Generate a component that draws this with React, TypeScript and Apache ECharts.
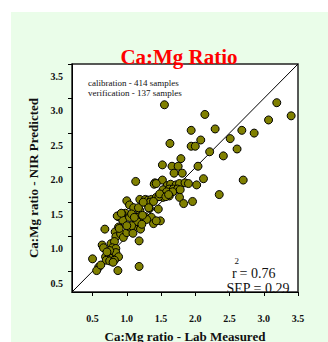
import React, { useEffect, useRef } from "react";
import * as echarts from "echarts";

const labMeasured = [
  1.55, 2.14, 3.19, 3.40, 3.07, 1.94, 2.29, 2.68, 2.86, 2.51,
  2.08, 1.63, 1.94, 2.00, 2.61, 2.21, 2.41, 1.79, 1.52, 1.66,
  1.75, 2.04, 1.69, 1.81, 2.12, 2.70, 1.13, 1.52, 1.41, 1.40,
  1.43, 1.59, 1.64, 1.72, 1.77, 1.85, 1.90, 2.02, 1.53, 1.62,
  1.68, 1.74, 1.58, 1.67, 1.78, 2.35, 1.53, 1.62, 1.77, 1.83,
  1.96, 1.19, 1.27, 1.31, 1.36, 1.43, 1.47, 1.30, 1.00, 1.04,
  1.10, 1.19, 1.33, 1.46, 0.98, 0.93, 0.88, 0.94, 1.04, 1.07,
  1.13, 1.19, 1.27, 1.36, 1.14, 1.49, 1.39, 1.29, 1.23, 0.68,
  0.88, 0.83, 0.84, 0.91, 0.95, 1.00, 1.04, 1.10, 1.20, 1.09,
  1.18, 0.77, 0.82, 0.64, 0.66, 0.79, 0.84, 0.78, 0.84, 0.74,
  0.69, 0.88, 0.70, 0.75, 0.82, 0.50, 0.59, 0.56, 0.87, 1.18,
  0.62, 0.80, 0.75, 0.71, 0.89, 0.86, 0.92, 1.15, 1.11, 1.43,
  1.22, 1.07, 1.00, 1.34, 1.39, 1.17, 1.32, 1.24, 1.48, 1.57, 1.61,
];

const nirPredicted = [
  2.91, 2.77, 2.94, 2.75, 2.69, 2.54, 2.56, 2.54, 2.50, 2.42,
  2.40, 2.35, 2.31, 2.31, 2.27, 2.23, 2.17, 2.13, 2.04, 2.02,
  2.02, 2.02, 1.92, 1.92, 1.84, 1.82, 1.80, 1.82, 1.78, 1.76,
  1.77, 1.74, 1.76, 1.75, 1.77, 1.78, 1.77, 1.75, 1.68, 1.69,
  1.69, 1.69, 1.65, 1.65, 1.68, 1.61, 1.57, 1.59, 1.57, 1.48,
  1.51, 1.54, 1.54, 1.53, 1.54, 1.57, 1.58, 1.47, 1.52, 1.46,
  1.42, 1.38, 1.41, 1.40, 1.34, 1.33, 1.29, 1.24, 1.28, 1.33,
  1.28, 1.29, 1.29, 1.28, 1.24, 1.23, 1.19, 1.25, 1.31, 1.11,
  1.14, 1.07, 1.00, 1.04, 0.99, 1.06, 1.14, 1.14, 1.11, 1.05,
  0.94, 0.90, 0.93, 0.88, 0.84, 0.84, 0.83, 0.76, 0.77, 0.70,
  0.71, 0.71, 0.66, 0.65, 0.66, 0.68, 0.56, 0.51, 0.51, 0.57,
  0.59, 0.63, 0.80, 0.78, 1.12, 1.30, 1.34, 1.22, 1.28, 1.23,
  1.18, 1.16, 1.16, 1.50, 1.51, 1.42, 1.42, 1.50, 1.62, 1.58, 1.61,
];

const tickValues = [0.5, 1.0, 1.5, 2.0, 2.5, 3.0, 3.5];
const axisMin = 0.2;
const axisMax = 3.5;
const identityLine = [
  [0.2, 0.2],
  [3.5, 3.5],
];

const titleText = "Ca:Mg Ratio";
const xName = "Ca:Mg ratio - Lab Measured";
const yName = "Ca:Mg ratio - NIR Predicted";
const noteLines = ["calibration - 414 samples", "verification - 137 samples"];
const r2Text = "= 0.76";
const sepText = "SEP = 0.29";

const SERIF = "Liberation Serif";

function txt(
  text: string,
  x: number,
  y: number,
  size: number,
  opts: { color?: string; weight?: string; align?: string; z?: number } = {}
) {
  return {
    type: "text",
    x,
    y,
    z: opts.z ?? 10,
    silent: true,
    style: {
      text,
      align: opts.align ?? "left",
      verticalAlign: "middle",
      fill: opts.color ?? "#000",
      fontFamily: SERIF,
      fontSize: size,
      fontWeight: opts.weight ?? "normal",
    },
  };
}

export default function App() {
  const ref = useRef<HTMLDivElement>(null);

  useEffect(() => {
    if (!ref.current) return;
    const chart = echarts.init(ref.current, null, { renderer: "svg" });
    const points = labMeasured.map((x, i) => [x, nirPredicted[i]]);

    const axisCommon = {
      type: "value" as const,
      min: axisMin,
      max: axisMax,
      axisLine: { show: true, lineStyle: { color: "#000", width: 1 } },
      axisTick: {
        show: true,
        inside: false,
        length: 4,
        customValues: tickValues,
        lineStyle: { color: "#000", width: 1 },
      },
      splitLine: { show: false },
    };

    chart.setOption({
      animation: false,
      backgroundColor: "#ffffff",
      graphic: [
        {
          type: "rect",
          z: -10,
          silent: true,
          shape: { x: 11, y: 12, width: 317, height: 330 },
          style: { fill: "#eafde9" },
        },
        txt(titleText, 179, 57, 21, { color: "#ff0000", weight: "bold", align: "center" }),
        txt(noteLines[0], 88, 83, 9, { color: "#111" }),
        txt(noteLines[1], 88, 92.5, 9, { color: "#111" }),
        txt("r", 232, 273, 14, { color: "#111" }),
        txt("2", 234.5, 261, 9, { color: "#111" }),
        txt(r2Text, 239.5, 273, 14, { color: "#111" }),
        txt(sepText, 226.5, 288.5, 14, { color: "#111", z: 1 }),
      ],
      grid: {
        left: 72,
        top: 64,
        width: 226,
        height: 228,
        show: true,
        backgroundColor: "#ffffff",
        borderColor: "#222",
        borderWidth: 1.5,
        containLabel: false,
        outerBoundsMode: "none",
      },
      xAxis: {
        ...axisCommon,
        name: xName,
        nameLocation: "middle",
        nameGap: 37.5,
        nameTextStyle: {
          fontFamily: SERIF,
          fontWeight: "bold",
          fontSize: 13,
          color: "#111",
        },
        axisLabel: {
          customValues: tickValues,
          margin: 21,
          fontFamily: SERIF,
          fontWeight: "bold",
          fontSize: 10,
          color: "#111",
          formatter: (v: number) => v.toFixed(1),
        },
      },
      yAxis: {
        ...axisCommon,
        name: yName,
        nameLocation: "middle",
        nameGap: 31,
        nameTextStyle: {
          fontFamily: SERIF,
          fontWeight: "bold",
          fontSize: 13,
          color: "#111",
        },
        axisLabel: {
          customValues: tickValues,
          margin: 9,
          verticalAlign: "top",
          lineHeight: 24,
          fontFamily: SERIF,
          fontWeight: "bold",
          fontSize: 10,
          color: "#111",
          formatter: (v: number) => v.toFixed(1),
        },
      },
      series: [
        {
          type: "line",
          data: identityLine,
          symbol: "none",
          silent: true,
          z: 1,
          lineStyle: { color: "#000", width: 1 },
        },
        {
          type: "scatter",
          data: points,
          symbol: "circle",
          symbolSize: 8,
          z: 3,
          itemStyle: {
            color: "#808000",
            borderColor: "#000",
            borderWidth: 1,
            opacity: 1,
          },
        },
      ],
    });

    return () => {
      chart.dispose();
    };
  }, []);

  return (
    <div
      ref={ref}
      style={{ position: "fixed", left: 0, top: 0, width: 328, height: 342 }}
    />
  );
}
